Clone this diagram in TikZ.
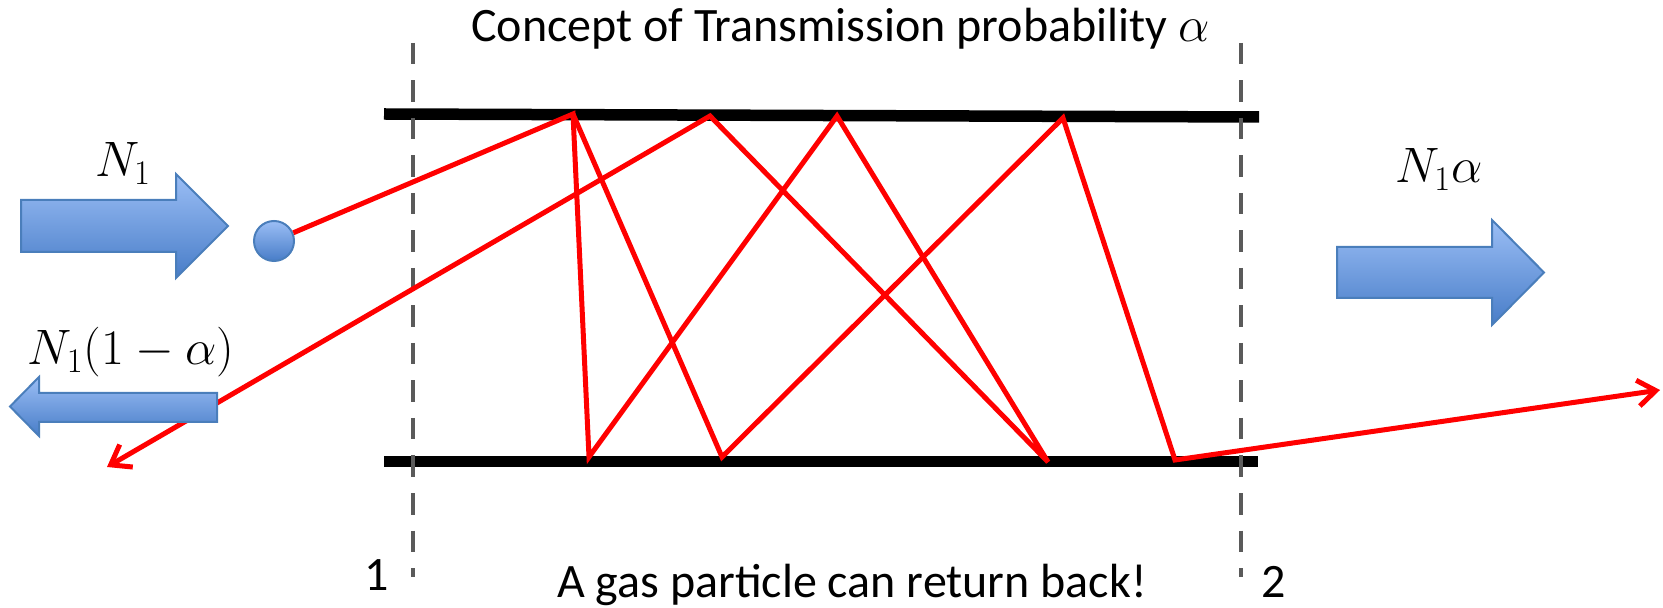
\documentclass[tikz,border=0pt]{standalone}
\usepackage{fontspec}
\setmainfont{Carlito}
\usetikzlibrary{arrows.meta}
\definecolor{rayred}{RGB}{255,0,0}
\definecolor{dashgray}{RGB}{90,90,90}
\definecolor{arrtop}{RGB}{155,190,245}
\definecolor{arrbot}{RGB}{72,125,200}
\definecolor{arrline}{RGB}{74,126,187}
\begin{document}
\begin{tikzpicture}[x=0.5pt,y=-0.5pt,
  wall/.style={line width=5.75pt, black},
  guide/.style={dashgray, line width=2.4pt, dash pattern=on 10.75pt off 8pt},
  ray/.style={rayred, line width=2.5pt, line join=miter, miter limit=4},
  rayarrow/.style={ray, -{Straight Barb[length=9pt,width=13pt]}},
  flow/.style={draw=arrline, line width=1pt, top color=arrtop, bottom color=arrbot},
  lbl/.style={inner sep=0pt, font=\fontsize{24}{28}\selectfont},
]
\useasboundingbox (0,0) rectangle (1663,608);

% walls
\coordinate (twl) at (384,114);
\coordinate (twr) at (1259,117);
\coordinate (bwl) at (384,461.5);
\coordinate (bwr) at (1258,461.5);
\draw[wall] (twl) -- (twr);
\draw[wall] (bwl) -- (bwr);

% cross-section guides
\coordinate (g1t) at (413,43);
\coordinate (g1b) at (413,577);
\coordinate (g2t) at (1241,43);
\coordinate (g2b) at (1241,577);
\draw[guide] (g1t) -- (g1b);
\draw[guide] (g2t) -- (g2b);

% texts
\node[lbl, anchor=base west] (title) at (471,42) {Concept of Transmission probability $\alpha$};
\node[lbl, anchor=base] (note) at (852,597) {A gas particle can return back!};
\node[lbl, anchor=base] (one) at (377,590) {1};
\node[lbl, anchor=base] (two) at (1274,597) {2};
\node[lbl, anchor=base] (nin) at (123,177) {$N_1$};
\node[lbl, anchor=base] (nout) at (1439,183) {$N_1\alpha$};
\node[lbl, anchor=base] (nback) at (131,365) {$N_1(1-\alpha)$};

% incoming and outgoing flow arrows
\draw[flow] (21,200) -- (176,200) -- (176,174) -- (228,226) -- (176,278) -- (176,252) -- (21,252) -- cycle;
\draw[flow] (1337,247) -- (1492,247) -- (1492,220) -- (1544,272.5) -- (1492,325) -- (1492,298) -- (1337,298) -- cycle;

% particle paths
\coordinate (T1) at (573,114);
\coordinate (T2) at (710,116);
\coordinate (T3) at (837,116);
\coordinate (T4) at (1063,118);
\coordinate (B1) at (589,457);
\coordinate (B2) at (722,457);
\coordinate (B3) at (1048,462);
\coordinate (B4) at (1175,460);
\coordinate (exitL) at (107,467);
\coordinate (exitR) at (1660,390);

\node[circle, flow, minimum size=20pt, inner sep=0pt] (ball) at (274,241) {};

\draw[rayarrow] (ball) -- (T1) -- (B1) -- (T3) -- (B3) -- (T2) -- (exitL);
\draw[rayarrow] (T1) -- (B2) -- (T4) -- (B4) -- (exitR);

% returning flow arrow (drawn over the ray)
\draw[flow] (217,393) -- (39,393) -- (39,377) -- (10,406.5) -- (39,436) -- (39,422) -- (217,422) -- cycle;
\end{tikzpicture}
\end{document}
